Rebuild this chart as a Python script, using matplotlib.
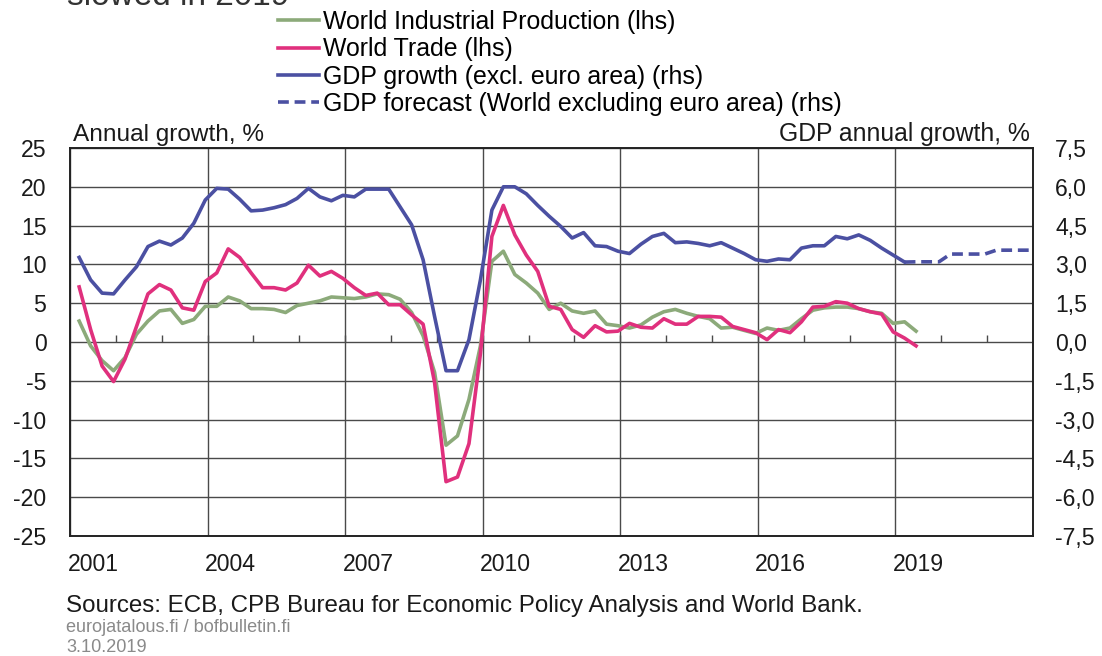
import numpy as np
import matplotlib.pyplot as plt
from matplotlib.lines import Line2D
from matplotlib.ticker import FuncFormatter

plt.rcParams['font.family'] = ['Liberation Sans', 'DejaVu Sans']
plt.rcParams['axes.unicode_minus'] = False

# quarterly figures, first value is 2001 Q1
industrial = [2.7, -0.5, -2.4, -3.7, -2.0, 1.0, 2.7, 4.0, 4.2, 2.4, 2.9, 4.6, 4.6, 5.8, 5.3, 4.3,
              4.3, 4.2, 3.8, 4.7, 5.0, 5.3, 5.8, 5.7, 5.6, 5.8, 6.2, 6.1, 5.5, 3.8, 0.8, -3.9,
              -13.3, -12.1, -7.4, -0.5, 10.4, 11.7, 8.7, 7.6, 6.3, 4.2, 5.0, 4.0, 3.7, 4.0, 2.3, 2.1,
              1.8, 2.2, 3.2, 3.9, 4.2, 3.7, 3.3, 3.0, 1.8, 1.9, 1.5, 1.1, 1.8, 1.5, 1.8, 3.0,
              4.1, 4.4, 4.5, 4.5, 4.3, 3.9, 3.7, 2.4, 2.6, 1.4]
trade = [7.1, 1.6, -3.1, -5.1, -2.2, 2.0, 6.2, 7.4, 6.7, 4.4, 4.1, 7.8, 8.9, 12.0, 10.9, 8.9,
         7.0, 7.0, 6.7, 7.6, 9.9, 8.5, 9.1, 8.2, 7.0, 6.0, 6.3, 4.8, 4.8, 3.5, 2.3, -5.2,
         -18.0, -17.4, -13.1, -1.5, 13.6, 17.6, 13.8, 11.2, 9.1, 4.6, 4.2, 1.6, 0.6, 2.1, 1.3, 1.4,
         2.4, 1.9, 1.8, 3.0, 2.3, 2.3, 3.3, 3.3, 3.2, 2.0, 1.6, 1.2, 0.3, 1.6, 1.2, 2.6,
         4.5, 4.6, 5.2, 5.0, 4.3, 3.9, 3.6, 1.3, 0.5, -0.5]
# GDP growth excl. euro area (rhs), to 2019 Q1
gdp = [3.27, 2.40, 1.89, 1.86, 2.40, 2.91, 3.69, 3.90, 3.75, 4.02, 4.59, 5.49, 5.94, 5.91, 5.52, 5.07,
       5.10, 5.19, 5.31, 5.55, 5.94, 5.61, 5.46, 5.67, 5.61, 5.91, 5.91, 5.91, 5.22, 4.53, 3.18, 0.99,
       -1.11, -1.11, 0.09, 2.40, 5.10, 6.00, 6.00, 5.73, 5.28, 4.86, 4.47, 4.02, 4.23, 3.72, 3.69, 3.51,
       3.42, 3.78, 4.08, 4.20, 3.84, 3.87, 3.81, 3.72, 3.84, 3.63, 3.42, 3.18, 3.12, 3.21, 3.18, 3.63,
       3.72, 3.72, 4.08, 3.99, 4.14, 3.93, 3.63, 3.36, 3.09]
# forecast, 2019 Q1 - 2021 Q4
gdp_forecast = [3.09, 3.1, 3.1, 3.1, 3.4, 3.4, 3.4, 3.4, 3.55, 3.55, 3.55, 3.55]
forecast_start = 72

year_labels = ['2001', '2004', '2007', '2010', '2013', '2016', '2019']

green = '#8CAA7A'
pink = '#E0307D'
blue = '#4B50A2'


def qpos(first, n):
    return 2001.2 + (first + np.arange(n)) / 4


fig = plt.figure(figsize=(11.02, 6.56), dpi=100)
ax = fig.add_axes([70 / 1102, 120 / 656, 963 / 1102, 388 / 656])

ax.plot(qpos(0, len(industrial)), industrial, color=green, lw=2.6, zorder=3)
ax.plot(qpos(0, len(trade)), trade, color=pink, lw=2.6, zorder=4)

ax.set_xlim(2001, 2022)
ax.set_ylim(-25, 25)
ax.set_yticks(np.arange(-25, 26, 5))
ax.set_xticks(np.arange(2001.5, 2020, 3), year_labels)
ax.set_xticks(np.arange(2001, 2023, 3), minor=True)
ax.grid(axis='y', color='#4a4a4a', lw=1)
ax.grid(axis='x', which='minor', color='#4a4a4a', lw=1)
ax.tick_params(axis='both', which='both', length=0, labelsize=16.6, colors='#1a1a1a')
ax.tick_params(axis='y', pad=17)
ax.tick_params(axis='x', pad=12)
for s in ax.spines.values():
    s.set_linewidth(1.4)
    s.set_color('#222222')

# small year ticks on the zero line
sec = ax.secondary_xaxis(0.5)
sec.set_xticks(np.arange(2002, 2022), labels=[])
sec.tick_params(length=5, width=1, colors='#4a4a4a')
for s in sec.spines.values():
    s.set_visible(False)

ax2 = ax.twinx()
ax2.plot(qpos(0, len(gdp)), gdp, color=blue, lw=2.6, zorder=5)
ax2.plot(qpos(forecast_start, len(gdp_forecast)), gdp_forecast, color=blue, lw=2.6,
         ls=(0, (3, 1.6)), zorder=5)
ax2.set_ylim(-7.5, 7.5)
ax2.set_yticks(np.arange(-7.5, 7.6, 1.5))
ax2.yaxis.set_major_formatter(FuncFormatter(lambda v, p: f"{v + 0.0:.1f}".replace('-0.0', '0.0').replace('.', ',')))
ax2.tick_params(axis='y', length=0, labelsize=16.6, pad=16, colors='#1a1a1a')
for s in ax2.spines.values():
    s.set_visible(False)

ax.annotate('Annual growth, %', xy=(0, 1), xycoords='axes fraction', xytext=(2, 1.5),
            textcoords='offset points', ha='left', va='bottom', fontsize=17.6, color='#1a1a1a')
ax.annotate('GDP annual growth, %', xy=(1, 1), xycoords='axes fraction', xytext=(-2, 1.5),
            textcoords='offset points', ha='right', va='bottom', fontsize=17.8, color='#1a1a1a')

handles = [Line2D([], [], color=green, lw=2.6),
           Line2D([], [], color=pink, lw=2.6),
           Line2D([], [], color=blue, lw=2.6),
           Line2D([], [], color=blue, lw=2.6, ls=(0, (3, 1.6)))]
labels = ['World Industrial Production (lhs)', 'World Trade (lhs)',
          'GDP growth (excl. euro area) (rhs)',
          'GDP forecast (World excluding euro area) (rhs)']
fig.legend(handles, labels, loc='upper left', bbox_to_anchor=(278 / 1102, 1 - 10 / 656),
           frameon=False, fontsize=17.9, handlelength=1.65, handletextpad=0.15,
           labelspacing=0.135, borderpad=0, borderaxespad=0)

# title line is cut off at the top edge of the picture
fig.text(67 / 1102, 1 - 5 / 656, 'slowed in 2019', fontsize=24, color='#333333', va='baseline')

fig.text(66 / 1102, 1 - 606 / 656, 'Sources: ECB, CPB Bureau for Economic Policy Analysis and World Bank.',
         fontsize=17.4, color='#1a1a1a', va='center')
fig.text(66 / 1102, 1 - 627 / 656, 'eurojatalous.fi / bofbulletin.fi', fontsize=13.1, color='#8a8a8a', va='center')
fig.text(66 / 1102, 1 - 647 / 656, '3.10.2019', fontsize=13.1, color='#8a8a8a', va='center')

fig.savefig('out.png', dpi=100)
